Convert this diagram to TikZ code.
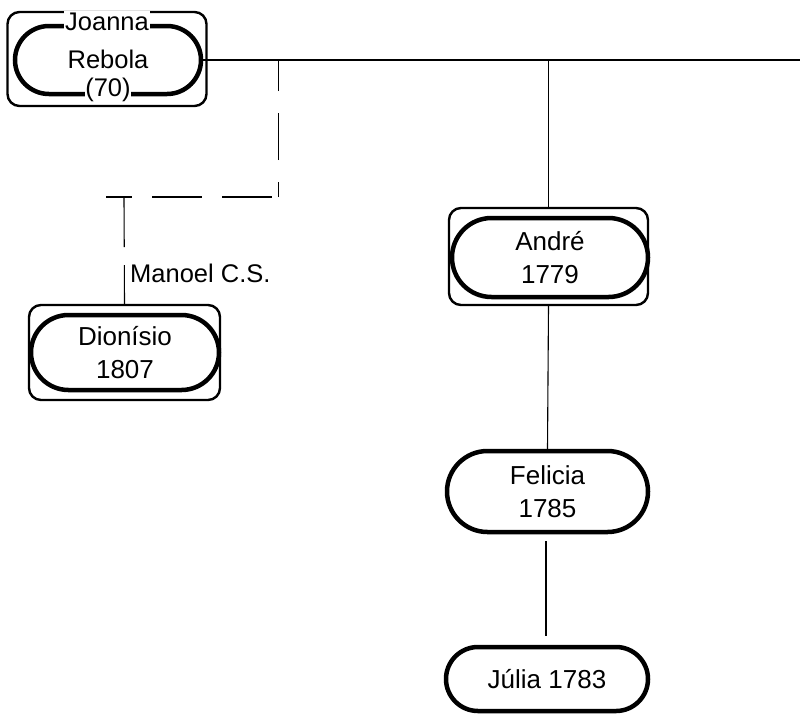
\documentclass[tikz,border=0pt]{standalone}
\usepackage{fontspec}
\setmainfont{Liberation Sans}
\usetikzlibrary{shapes.misc}
\begin{document}
\begin{tikzpicture}[x=1pt,y=-1pt,
  outerbox/.style={draw, line width=2.4pt, rounded corners=12pt, inner sep=0pt},
  stadium/.style={draw, line width=4.5pt, rounded rectangle, inner sep=0pt, align=center, font=\fontsize{26}{33}\selectfont},
  txt/.style={font=\fontsize{25.5}{30}\selectfont, inner sep=1pt},
  conn/.style={line width=1.1pt},
  thinconn/.style={line width=0.7pt}]
\useasboundingbox (0,0) rectangle (800,724);
% Joanna
\node[outerbox, minimum width=199pt, minimum height=94pt] (jbox) at (107,59) {};
\node[stadium, minimum width=186pt, minimum height=68pt] (joanna) at (108,60) {};
\node[txt, anchor=base] (jn2) at (108,68) {Rebola};
\node[txt, anchor=base, fill=white] (jn1) at (107,30) {Joanna};
\node[txt, anchor=base, fill=white, inner sep=0.5pt] (jn3) at (108,96) {(70)};
% Dionisio
\node[outerbox, minimum width=191pt, minimum height=95pt] (dbox) at (124.5,352.5) {};
\node[stadium, minimum width=188pt, minimum height=75pt] (dionisio) at (125,352.5) {Dionísio\\1807};
% Andre
\node[outerbox, minimum width=199pt, minimum height=97pt] (abox) at (548.5,256.5) {};
\node[stadium, minimum width=196pt, minimum height=79pt] (andre) at (550,257.5) {André\\1779};
% Felicia
\node[stadium, minimum width=201pt, minimum height=81pt] (felicia) at (547.5,491.5) {Felicia\\1785};
% Julia
\node[stadium, minimum width=202pt, minimum height=64pt] (julia) at (547,679) {Júlia 1783};
% coordinates
\coordinate (rightend) at (800,60);
\coordinate (jd) at (278,60);
\coordinate (corner) at (278,197);
\coordinate (tee) at (124,197);
\coordinate (teeL) at (106,197);
% connectors
\draw[conn] (joanna.east) -- (rightend);
\draw[conn] (abox.north |- rightend) -- (abox.north);
\draw[conn] (abox.south) -- (felicia.north);
\draw[conn, shorten <=7pt, shorten >=9pt] ([xshift=-1.5pt]felicia.south) -- ([xshift=-1pt]julia.north);
\draw[conn, dash pattern=on 50pt off 20pt, dash phase=24pt] (teeL) -- (corner);
\draw[thinconn, dash pattern=on 47pt off 22pt, dash phase=32pt] (corner) -- (jd);
\draw[conn, dash pattern=on 50pt off 18pt] (tee) -- (dbox.north);
\node[txt, anchor=base west] (manoel) at (129,282) {Manoel C.S.};
\end{tikzpicture}
\end{document}
